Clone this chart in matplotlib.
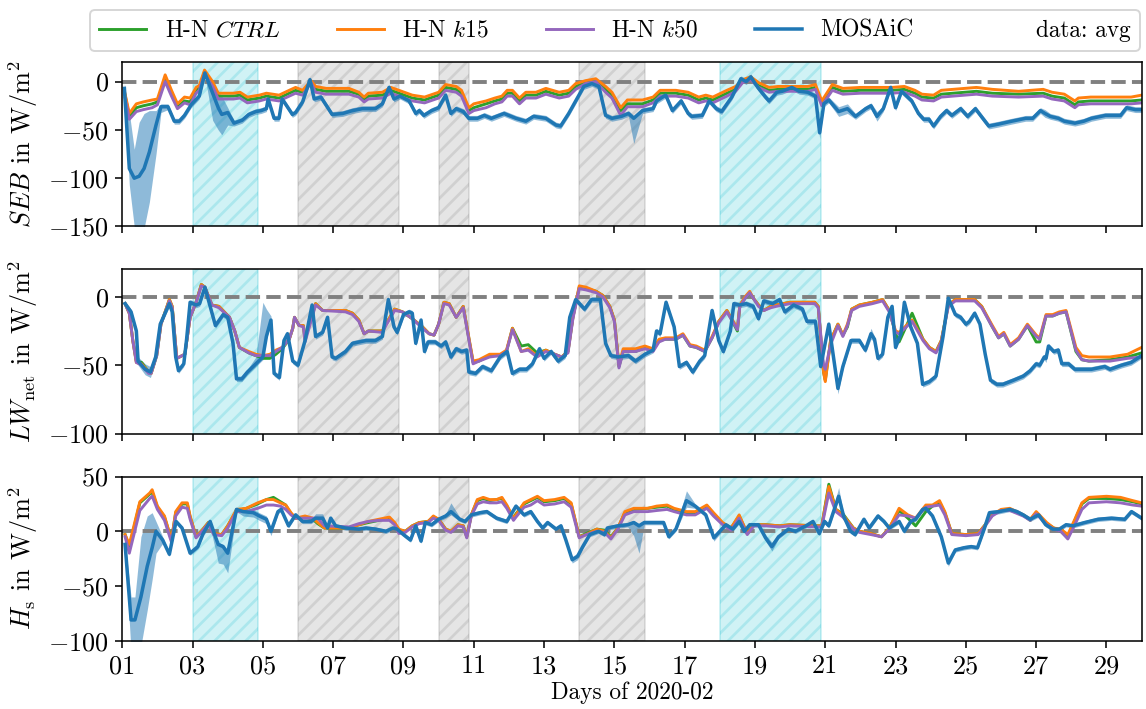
import numpy as np
import matplotlib
matplotlib.use("Agg")
import matplotlib.pyplot as plt
from matplotlib.lines import Line2D

plt.rcParams.update({
    "font.family": "serif",
    "font.serif": ["cmr10"],
    "mathtext.fontset": "cm",
    "axes.unicode_minus": False,
    "axes.formatter.use_mathtext": True,
    "font.size": 12,
    "hatch.linewidth": 1.4,
})

# shaded periods (day of Feb 2020)
cyan_spans = [(3.0, 4.875), (18.0, 20.875)]
grey_spans = [(6.0, 8.875), (10.0, 10.875), (14.0, 15.875)]

# ---------------- SEB ----------------
t_seb_mod = [1.08, 1.2, 1.4, 1.6, 1.85, 2.0, 2.22, 2.4, 2.57, 2.77,
             2.93, 3.1, 3.19, 3.34, 3.57, 3.73, 4.0, 4.16, 4.35, 4.56,
             4.9, 5.1, 5.46, 5.75, 5.93, 6.13, 6.37, 6.5, 6.8, 7.45,
             7.73, 7.88, 8.0, 8.4, 8.64, 8.87, 9.25, 9.6, 10.0, 10.2,
             10.5, 10.65, 10.86, 11.0, 11.35, 11.6, 11.8, 11.95, 12.1, 12.3,
             12.48, 12.77, 13.05, 13.43, 13.7, 13.9, 14.18, 14.47, 14.75, 14.93,
             15.18, 15.37, 15.8, 16.1, 16.3, 16.75, 17.1, 17.4, 17.6, 17.8,
             18.2, 18.45, 18.65, 18.88, 19.1, 19.4, 19.66, 20.0, 20.5, 20.72,
             20.9, 21.2, 21.5, 22.0, 22.9, 23.25, 23.55, 23.75, 24.08, 24.3,
             25.3, 25.75, 26.5, 27.2, 27.45, 27.8, 28.1, 28.2, 28.55, 29.7,
             30.0]
seb_k15 = [-13, -33, -23, -21, -19, -18, 7, -9, -23, -16,
           -17, -6, -4, 12, 0, -12, -12, -12, -11, -16,
           -14, -12, -14, -9, -6, -9, 1, -5, -7, -7,
           -11, -16, -12, -11, -6, -9, -14, -16, -11, -3,
           -5, -9, -27, -23, -20, -17, -15, -9, -9, -17,
           -11, -11, -7, -11, -9, -2, 1, 3, -5, -11,
           -27, -19, -19, -16, -9, -9, -11, -16, -14, -16,
           -9, -5, 2, 5, -1, -6, -5, -5, -5, -3,
           -20, -3, -7, -6, -6, -5, -9, -13, -14, -9,
           -6, -8, -10, -8, -11, -13, -20, -17, -16, -16,
           -14]
seb_ctrl = [-15, -36, -27, -25, -23, -21, 4, -12, -26, -20,
            -21, -9, -7, 10, -3, -15, -15, -15, -14, -19,
            -17, -15, -17, -12, -9, -11, 0, -8, -10, -10,
            -13, -19, -15, -14, -9, -12, -17, -19, -14, -6,
            -8, -12, -30, -27, -23, -20, -18, -12, -12, -20,
            -14, -14, -10, -14, -12, -5, -1, 1, -8, -14,
            -30, -23, -23, -19, -12, -12, -14, -19, -17, -19,
            -12, -8, 0, 3, -4, -9, -8, -8, -8, -6,
            -22, -6, -10, -9, -9, -8, -12, -16, -17, -13,
            -10, -12, -13, -12, -15, -17, -24, -21, -20, -20,
            -19]
seb_k50 = [-17, -39, -31, -29, -27, -24, 0, -15, -28, -22,
           -24, -12, -9, 8, -5, -18, -18, -18, -17, -22,
           -20, -18, -20, -15, -12, -14, -1, -11, -13, -13,
           -16, -21, -18, -17, -12, -15, -20, -22, -17, -9,
           -11, -15, -33, -30, -27, -23, -21, -15, -15, -23,
           -17, -17, -13, -17, -15, -8, -2, 0, -11, -17,
           -35, -26, -26, -22, -15, -15, -17, -22, -20, -22,
           -15, -10, -1, 2, -6, -11, -10, -10, -10, -8,
           -25, -9, -13, -12, -12, -11, -15, -19, -20, -16,
           -13, -15, -16, -15, -18, -20, -27, -24, -23, -23,
           -22]

t_seb_obs = [1.06, 1.2, 1.34, 1.48, 1.62, 1.77, 1.96, 2.1, 2.3, 2.48,
             2.62, 2.77, 2.96, 3.19, 3.35, 3.57, 3.73, 3.83, 4.0, 4.18,
             4.41, 4.6, 4.8, 4.95, 5.1, 5.15, 5.32, 5.46, 5.55, 5.84,
             5.93, 6.13, 6.34, 6.46, 6.65, 6.97, 7.27, 7.55, 7.83, 8.2,
             8.4, 8.59, 8.73, 8.9, 9.16, 9.35, 9.45, 9.58, 9.8, 10.0,
             10.2, 10.35, 10.5, 10.7, 10.86, 11.1, 11.3, 11.5, 11.86, 12.2,
             12.48, 12.7, 13.05, 13.34, 13.47, 13.7, 13.9, 14.13, 14.36, 14.56,
             14.75, 14.93, 15.2, 15.4, 15.55, 15.8, 16.1, 16.2, 16.46, 16.65,
             16.9, 17.1, 17.2, 17.5, 17.7, 17.9, 18.05, 18.34, 18.6, 18.75,
             18.88, 19.08, 19.3, 19.4, 19.62, 19.77, 20.05, 20.26, 20.5, 20.72,
             20.84, 20.96, 21.1, 21.38, 21.63, 21.86, 22.15, 22.3, 22.47, 22.65,
             22.86, 23.0, 23.17, 23.46, 23.65, 23.8, 23.95, 24.08, 24.28, 24.45,
             24.6, 24.85, 25.05, 25.27, 25.5, 25.65, 25.93, 26.3, 26.7, 26.9,
             27.12, 27.25, 27.4, 27.63, 27.8, 28.1, 28.35, 28.57, 28.97, 29.4,
             29.57, 29.82, 30.0]
seb_obs = [-7, -90, -100, -98, -90, -73, -45, -26, -26, -41,
           -41, -35, -24, -15, 9, -12, -27, -34, -32, -43,
           -40, -34, -31, -30, -28, -18, -38, -38, -18, -34,
           -32, -21, 2, -18, -16, -34, -33, -30, -28, -28,
           -23, -6, -18, -15, -20, -33, -30, -35, -30, -27,
           -14, -33, -28, -31, -38, -38, -35, -38, -33, -38,
           -41, -36, -38, -45, -46, -33, -20, -5, -2, -5,
           -35, -38, -36, -33, -38, -30, -28, -20, -14, -30,
           -20, -33, -36, -35, -20, -28, -31, -16, 3, 0,
           5, -6, -16, -20, -11, -10, -6, -10, -11, -15,
           -53, -23, -19, -31, -28, -36, -28, -25, -36, -28,
           -6, -27, -10, -20, -33, -39, -39, -46, -36, -30,
           -35, -28, -36, -28, -39, -46, -44, -41, -38, -38,
           -30, -33, -36, -38, -41, -43, -41, -38, -35, -35,
           -27, -29, -29]
seb_obs_dn = [3, 17, 50, 55, 62, 52, 30, 6, 3, 3,
              3, 3, 3, 3, 3, 28, 23, 21, 13, 3,
              3, 3, 3, 3, 3, 3, 3, 3, 3, 3,
              3, 3, 3, 3, 3, 3, 3, 3, 3, 3,
              3, 3, 3, 3, 3, 3, 3, 3, 3, 3,
              3, 3, 3, 3, 3, 3, 3, 3, 3, 3,
              3, 3, 3, 3, 3, 3, 3, 3, 3, 3,
              3, 3, 3, 3, 26, 3, 3, 3, 3, 3,
              3, 3, 3, 3, 3, 3, 3, 3, 3, 3,
              3, 3, 3, 3, 3, 3, 3, 3, 3, 3,
              6, 3, 3, 5, 5, 3, 3, 3, 5, 3,
              3, 3, 3, 3, 3, 3, 3, 3, 3, 3,
              3, 3, 3, 3, 3, 3, 3, 3, 3, 3,
              3, 4, 3, 3, 3, 3, 3, 3, 3, 3,
              3, 3, 3]
seb_obs_up = [5, 58, 30, 56, 57, 43, 15, 3, 3, 3,
              3, 3, 3, 3, 3, 3, 17, 19, 5, 3,
              3, 3, 3, 3, 3, 3, 3, 3, 3, 3,
              3, 3, 3, 3, 3, 3, 3, 3, 3, 3,
              3, 3, 3, 3, 3, 3, 3, 3, 3, 3,
              3, 3, 3, 3, 3, 3, 3, 3, 3, 3,
              3, 3, 3, 3, 3, 3, 3, 3, 3, 3,
              3, 3, 3, 3, 3, 3, 3, 3, 3, 3,
              3, 3, 3, 3, 3, 3, 3, 3, 3, 3,
              3, 3, 3, 3, 3, 3, 3, 3, 3, 3,
              3, 3, 3, 5, 5, 3, 3, 3, 5, 3,
              3, 3, 3, 3, 3, 3, 3, 3, 3, 3,
              3, 3, 3, 3, 3, 3, 3, 3, 3, 3,
              3, 4, 3, 3, 3, 3, 3, 3, 3, 3,
              3, 3, 3]

# ---------------- LW net ----------------
t_lw_mod = [1.08, 1.2, 1.3, 1.4, 1.55, 1.75, 1.82, 1.98, 2.1, 2.34,
            2.42, 2.55, 2.78, 2.93, 3.1, 3.25, 3.35, 3.55, 3.75, 4.05,
            4.2, 4.33, 4.6, 4.8, 5.0, 5.2, 5.37, 5.55, 5.75, 5.85,
            5.9, 6.03, 6.15, 6.2, 6.5, 6.7, 7.35, 7.55, 7.73, 7.88,
            8.0, 8.4, 8.5, 8.75, 8.97, 9.25, 9.54, 9.73, 9.87, 10.0,
            10.15, 10.3, 10.5, 10.7, 10.98, 11.15, 11.45, 11.75, 11.93, 12.1,
            12.35, 12.55, 12.8, 13.05, 13.3, 13.5, 13.68, 13.82, 14.0, 14.2,
            14.48, 14.67, 14.87, 15.0, 15.13, 15.25, 15.6, 15.87, 16.1, 16.27,
            16.45, 16.75, 16.95, 17.15, 17.33, 17.57, 17.78, 17.97, 18.2, 18.5,
            18.57, 18.75, 18.85, 18.95, 19.1, 19.25, 19.45, 19.6, 20.0, 20.7,
            20.8, 20.95, 21.0, 21.15, 21.36, 21.5, 21.63, 21.75, 21.97, 22.34,
            22.63, 22.82, 23.0, 23.1, 23.47, 23.78, 23.96, 24.15, 24.3, 24.5,
            24.7, 25.25, 25.45, 25.73, 25.93, 26.08, 26.26, 26.5, 26.75, 27.0,
            27.1, 27.28, 27.47, 27.66, 27.85, 28.13, 28.3, 28.5, 29.1, 29.6,
            30.0]
lw_k15 = [-5, -12, -32, -48, -49, -55, -56, -42, -20, -2,
          -7, -45, -42, -15, -4, 9, 7, -6, -7, -15,
          -25, -37, -40, -42, -43, -42, -39, -37, -31, -23,
          -15, -21, -21, -30, -5, -10, -10, -12, -17, -27,
          -25, -25, -20, -9, -11, -16, -22, -27, -28, -20,
          -4, -5, -15, -7, -47, -46, -42, -42, -39, -23,
          -40, -38, -43, -39, -42, -44, -40, -15, 8, 7,
          4, 1, -7, -17, -50, -38, -38, -36, -38, -31,
          -30, -30, -27, -35, -36, -39, -29, -18, -10, -23,
          -6, 1, 4, -1, -6, -10, -7, -6, -4, -4,
          -7, -55, -62, -32, -20, -28, -20, -9, -6, -4,
          -2, -10, -25, -26, -17, -31, -37, -40, -32, -6,
          -2, -2, -7, -20, -29, -26, -35, -30, -20, -28,
          -30, -13, -13, -11, -10, -37, -43, -44, -44, -42,
          -37]
lw_ctrl = [-5, -12, -32, -47, -48, -55, -56, -43, -20, -2,
           -7, -45, -42, -15, -4, 9, 7, -6, -7, -15,
           -25, -37, -41, -43, -45, -45, -42, -38, -31, -23,
           -15, -21, -21, -31, -5, -10, -10, -12, -17, -27,
           -25, -25, -20, -9, -11, -16, -22, -27, -28, -20,
           -4, -5, -15, -7, -48, -47, -43, -43, -40, -23,
           -36, -35, -41, -39, -42, -44, -40, -15, 7, 6,
           4, 1, -7, -17, -51, -40, -40, -37, -39, -32,
           -31, -31, -28, -36, -37, -40, -30, -18, -10, -25,
           -6, 0, 3, -1, -6, -10, -7, -6, -4, -4,
           -7, -55, -61, -32, -20, -28, -22, -9, -6, -4,
           -2, -10, -27, -33, -12, -31, -37, -40, -32, -6,
           -2, -2, -7, -21, -30, -27, -36, -31, -21, -33,
           -33, -14, -14, -12, -11, -40, -46, -47, -46, -44,
           -41]
lw_k50 = [-5, -12, -32, -48, -50, -56, -56, -43, -20, -3,
          -8, -45, -42, -15, -4, 8, 7, -6, -8, -15,
          -25, -37, -41, -43, -43, -43, -40, -37, -31, -23,
          -15, -21, -22, -33, -6, -10, -11, -13, -18, -27,
          -25, -26, -21, -10, -11, -16, -23, -27, -28, -20,
          -5, -6, -15, -8, -49, -47, -44, -43, -40, -24,
          -40, -39, -44, -40, -42, -44, -41, -16, 6, 5,
          3, 0, -8, -18, -52, -40, -40, -38, -40, -33,
          -31, -31, -28, -36, -37, -40, -30, -19, -11, -24,
          -7, 0, 3, -1, -7, -10, -8, -7, -5, -5,
          -8, -50, -53, -35, -21, -29, -21, -10, -7, -5,
          -3, -11, -26, -27, -18, -32, -38, -41, -33, -7,
          -3, -3, -8, -21, -30, -27, -36, -31, -21, -29,
          -31, -14, -14, -12, -11, -39, -46, -47, -47, -45,
          -44]

t_lw_obs = [1.08, 1.25, 1.4, 1.45, 1.65, 1.8, 1.95, 2.08, 2.34, 2.42,
            2.52, 2.6, 2.75, 2.83, 2.93, 3.1, 3.2, 3.35, 3.5, 3.65,
            3.87, 4.0, 4.15, 4.25, 4.4, 4.56, 4.8, 5.0, 5.1, 5.23,
            5.32, 5.47, 5.6, 5.7, 5.85, 6.0, 6.2, 6.4, 6.5, 6.7,
            6.84, 6.97, 7.07, 7.35, 7.55, 7.93, 8.2, 8.4, 8.57, 8.73,
            8.82, 9.0, 9.16, 9.25, 9.35, 9.5, 9.6, 9.7, 9.9, 10.07,
            10.2, 10.35, 10.5, 10.65, 10.8, 10.86, 11.05, 11.25, 11.5, 11.75,
            11.95, 12.1, 12.3, 12.5, 12.67, 12.87, 13.0, 13.2, 13.4, 13.6,
            13.73, 13.9, 14.15, 14.35, 14.6, 14.75, 14.9, 15.1, 15.4, 15.6,
            15.87, 16.1, 16.2, 16.3, 16.47, 16.7, 16.85, 17.05, 17.23, 17.43,
            17.57, 17.78, 17.97, 18.1, 18.3, 18.4, 18.55, 18.75, 18.95, 19.1,
            19.25, 19.5, 19.7, 19.85, 20.1, 20.35, 20.48, 20.72, 20.87, 21.1,
            21.36, 21.5, 21.73, 21.97, 22.14, 22.3, 22.4, 22.5, 22.63, 22.78,
            22.9, 23.0, 23.15, 23.25, 23.43, 23.62, 23.77, 23.96, 24.15, 24.35,
            24.5, 24.7, 24.85, 25.0, 25.1, 25.25, 25.4, 25.55, 25.7, 25.88,
            26.05, 26.35, 26.63, 26.83, 27.0, 27.1, 27.23, 27.28, 27.35, 27.5,
            27.63, 27.73, 27.92, 28.1, 28.57, 28.95, 29.1, 29.43, 29.7, 30.0]
lw_obs = [-5, -11, -25, -47, -53, -55, -44, -20, -5, -11,
          -44, -54, -49, -31, -4, -6, -5, 7, -7, -21,
          -13, -15, -34, -60, -60, -55, -49, -44, -29, -17,
          -56, -59, -32, -27, -47, -50, -32, -6, -29, -26,
          -15, -44, -45, -40, -34, -32, -32, -29, -2, -22,
          -26, -13, -11, -12, -34, -17, -40, -33, -33, -36,
          -33, -44, -38, -40, -39, -55, -56, -51, -54, -44,
          -40, -56, -53, -53, -49, -38, -45, -40, -47, -43,
          -15, -2, -9, -2, -2, -34, -43, -44, -43, -47,
          -42, -39, -25, -27, -4, -22, -51, -48, -55, -47,
          -43, -10, -32, -40, -25, -5, -6, -5, -7, -16,
          -3, -5, -2, -11, -6, -9, -18, -18, -51, -20,
          -67, -51, -32, -32, -39, -27, -31, -45, -42, -15,
          -7, -37, -27, -4, -22, -34, -64, -62, -58, -29,
          -1, -13, -15, -20, -18, -12, -20, -42, -61, -64,
          -64, -61, -58, -54, -49, -50, -44, -45, -36, -40,
          -39, -49, -49, -53, -53, -51, -53, -50, -48, -43]
lw_obs_dn = [2, 2, 2, 3, 4, 4, 3, 2, 2, 2,
             2, 2, 2, 2, 2, 2, 2, 2, 2, 2,
             2, 2, 2, 2, 2, 2, 2, 2, 2, 2,
             2, 2, 2, 2, 2, 2, 2, 2, 2, 2,
             2, 2, 2, 2, 2, 2, 2, 2, 2, 2,
             2, 2, 2, 2, 2, 2, 2, 2, 2, 2,
             2, 2, 2, 2, 2, 2, 2, 2, 2, 2,
             2, 2, 2, 2, 2, 2, 2, 2, 2, 2,
             2, 2, 2, 2, 2, 2, 2, 2, 2, 2,
             2, 2, 2, 2, 2, 2, 2, 2, 2, 2,
             2, 2, 2, 2, 2, 2, 2, 2, 2, 2,
             2, 2, 2, 2, 2, 2, 2, 2, 2, 2,
             4, 2, 2, 2, 2, 4, 2, 2, 2, 2,
             2, 2, 2, 2, 2, 2, 2, 2, 2, 2,
             2, 2, 2, 2, 2, 2, 2, 2, 2, 2,
             2, 2, 2, 2, 2, 2, 2, 3, 2, 2,
             2, 2, 2, 2, 2, 2, 2, 2, 2, 2]
lw_obs_up = [2, 2, 2, 3, 4, 4, 3, 2, 2, 2,
             2, 2, 2, 2, 2, 2, 2, 2, 2, 2,
             2, 2, 2, 2, 2, 2, 5, 40, 20, 3,
             2, 2, 2, 2, 2, 2, 2, 2, 2, 2,
             2, 2, 2, 2, 2, 2, 2, 2, 2, 2,
             2, 2, 2, 2, 2, 2, 2, 2, 2, 2,
             2, 2, 2, 2, 2, 2, 2, 2, 2, 2,
             2, 2, 2, 2, 2, 2, 2, 2, 2, 2,
             2, 2, 2, 2, 2, 2, 2, 2, 2, 2,
             2, 2, 2, 2, 2, 2, 2, 2, 2, 2,
             2, 2, 2, 2, 2, 2, 2, 2, 2, 2,
             2, 2, 2, 2, 2, 2, 2, 2, 2, 2,
             4, 2, 2, 2, 2, 4, 2, 2, 2, 2,
             2, 2, 2, 2, 2, 2, 2, 2, 2, 2,
             2, 2, 2, 2, 2, 2, 2, 2, 2, 2,
             2, 2, 2, 2, 2, 2, 2, 3, 2, 2,
             2, 2, 2, 2, 2, 2, 2, 2, 2, 2]

# ---------------- Hs ----------------
t_hs_mod = [1.08, 1.2, 1.5, 1.78, 1.85, 2.0, 2.2, 2.4, 2.52, 2.7,
            2.85, 2.93, 3.1, 3.3, 3.45, 3.6, 3.83, 4.0, 4.25, 4.53,
            4.85, 5.1, 5.3, 5.5, 5.65, 5.8, 5.93, 6.2, 6.42, 6.56,
            6.75, 7.45, 7.73, 8.0, 8.3, 8.6, 8.75, 8.87, 9.05, 9.25,
            9.45, 9.7, 9.85, 10.0, 10.2, 10.35, 10.55, 10.7, 10.8, 10.93,
            11.1, 11.27, 11.45, 11.65, 11.8, 11.94, 12.13, 12.2, 12.43, 12.62,
            12.81, 13.0, 13.3, 13.57, 13.77, 14.0, 14.2, 14.5, 14.72, 14.9,
            15.1, 15.3, 15.55, 15.95, 16.2, 16.5, 16.7, 17.05, 17.3, 17.63,
            17.82, 18.08, 18.32, 18.55, 18.78, 18.97, 19.3, 19.7, 20.0, 20.72,
            20.9, 21.1, 21.3, 21.5, 21.8, 21.97, 22.3, 22.6, 22.82, 23.1,
            23.35, 23.57, 23.86, 24.05, 24.25, 24.4, 24.6, 25.0, 25.35, 25.55,
            25.75, 26.0, 26.25, 26.63, 26.83, 27.0, 27.3, 27.5, 27.7, 27.9,
            28.1, 28.3, 28.5, 29.0, 29.4, 29.75, 30.0]
hs_k15 = [-3, -12, 27, 35, 38, 23, 14, -8, 18, 26,
          26, 14, -5, 2, 8, -2, -3, 5, 20, 21,
          26, 29, 29, 26, 24, 17, 12, 14, 12, 8,
          3, 3, 6, 9, 11, 13, 8, 2, 0, 5,
          8, 9, 14, 11, 2, 0, 6, 5, -5, 15,
          29, 31, 29, 29, 31, 24, 12, 15, 26, 29,
          32, 28, 29, 31, 26, -5, -3, 2, 0, -6,
          3, 18, 21, 21, 23, 24, 21, 18, 18, 24,
          17, 8, 3, 15, -2, 6, 6, 5, 6, 5,
          5, 41, 20, 15, 3, 0, -2, -5, 3, 21,
          15, 12, 24, 24, 28, 18, -2, -3, -2, 6,
          15, 20, 21, 15, 11, 18, 8, 3, 2, -3,
          11, 26, 31, 32, 31, 28, 26]
hs_ctrl = [-3, -15, 26, 34, 36, 22, 13, -8, 17, 25,
           25, 13, -5, 2, 8, -2, -3, 5, 19, 21,
           25, 29, 31, 27, 24, 16, 12, 13, 11, 7,
           3, 3, 6, 8, 10, 12, 7, 1, 0, 5,
           8, 9, 13, 11, 2, 0, 6, 5, -5, 15,
           28, 30, 28, 29, 30, 23, 12, 16, 25, 28,
           31, 27, 28, 30, 25, -5, -2, 2, 1, -5,
           3, 17, 20, 21, 22, 23, 20, 17, 17, 23,
           16, 7, 3, 14, -2, 6, 6, 5, 6, 5,
           5, 43, 20, 16, 3, 0, -2, -5, 3, 19,
           12, 5, 18, 23, 26, 17, -2, -3, -2, 6,
           15, 19, 20, 15, 10, 17, 7, 3, 0, -6,
           10, 25, 30, 30, 29, 27, 25]
hs_k50 = [-5, -20, 19, 30, 32, 20, 10, -10, 14, 22,
          21, 11, -6, 1, 7, -3, -4, 3, 18, 18,
          21, 24, 24, 23, 20, 15, 12, 12, 12, 12,
          5, 4, 7, 9, 10, 10, 6, -2, -1, 4,
          7, 8, 12, 10, 1, -1, 5, 4, -6, 14,
          25, 27, 26, 26, 27, 21, 10, 13, 22, 24,
          28, 24, 25, 27, 22, -6, -3, 0, -1, -7,
          2, 15, 18, 18, 19, 20, 18, 15, 15, 21,
          14, 6, 1, 12, -3, 5, 5, 4, 5, 4,
          4, 35, 18, 13, 2, -1, -3, -5, 2, 15,
          14, 12, 22, 23, 24, 15, -3, -4, -3, 5,
          14, 19, 19, 14, 10, 16, 6, 2, 0, -7,
          6, 20, 26, 27, 26, 24, 23]

t_hs_obs = [1.08, 1.25, 1.36, 1.53, 1.71, 1.85, 1.96, 2.15, 2.34, 2.53,
            2.7, 2.93, 3.15, 3.3, 3.5, 3.65, 3.73, 3.87, 4.0, 4.25,
            4.44, 4.73, 4.9, 5.1, 5.23, 5.43, 5.52, 5.73, 5.93, 6.13,
            6.37, 6.5, 6.7, 6.84, 6.93, 7.07, 7.35, 7.73, 7.93, 8.2,
            8.5, 8.7, 8.82, 9.0, 9.2, 9.35, 9.5, 9.62, 9.8, 10.0,
            10.2, 10.35, 10.6, 10.75, 10.93, 11.18, 11.37, 11.65, 11.94, 12.2,
            12.43, 12.62, 12.81, 12.96, 13.1, 13.34, 13.48, 13.62, 13.8, 13.95,
            14.1, 14.3, 14.55, 14.72, 14.8, 15.1, 15.38, 15.55, 15.7, 15.85,
            16.4, 16.55, 16.75, 17.05, 17.3, 17.6, 17.83, 18.17, 18.37, 18.55,
            18.7, 18.85, 19.1, 19.3, 19.48, 19.67, 19.95, 20.15, 20.45, 20.65,
            20.83, 20.98, 21.1, 21.38, 21.52, 21.72, 21.85, 22.1, 22.25, 22.5,
            22.67, 22.82, 23.1, 23.25, 23.43, 23.57, 23.77, 23.86, 24.05, 24.3,
            24.5, 24.7, 24.95, 25.15, 25.33, 25.52, 25.67, 25.95, 26.25, 26.45,
            26.63, 26.83, 27.07, 27.27, 27.47, 27.66, 27.85, 28.04, 28.38, 28.76,
            29.14, 29.52, 29.71, 30.0]
hs_obs = [-12, -81, -81, -60, -32, -15, 0, -8, -21, 9,
          3, -20, -14, -2, 9, -5, -12, -14, -20, 20,
          18, 17, 14, 11, 0, 18, 20, 5, 15, 9,
          9, 12, 12, 3, 12, 5, 3, 2, 3, 2,
          0, 3, 2, -3, -8, 5, -9, 8, 6, 11,
          14, 18, 11, 9, 15, 17, 18, 12, 9, 23,
          15, 18, 9, 3, 8, 2, 5, -8, -26, -23,
          -14, -3, 0, -3, 3, 5, 6, 8, 5, 8,
          8, -5, 2, 28, 23, 15, -6, 6, 2, 9,
          0, 6, 6, -6, -14, -5, 2, 0, 5, 9,
          -2, 9, 5, 32, 14, 0, -3, 11, 3, 14,
          9, 3, 9, 0, 9, 11, 20, 21, 14, -5,
          -29, -17, -15, -14, -15, 2, 17, 18, 20, 18,
          15, 11, 15, 6, 2, 2, 6, 5, 8, 11,
          12, 11, 18, 12]
hs_obs_dn = [3, 30, 30, 45, 40, 29, 20, 3, 2, 2,
             2, 2, 2, 2, 5, 12, 17, 16, 18, 2,
             4, 4, 4, 4, 4, 2, 2, 2, 2, 2,
             2, 2, 2, 2, 2, 2, 2, 2, 2, 2,
             2, 2, 2, 2, 2, 2, 2, 2, 2, 2,
             2, 3, 2, 2, 2, 2, 2, 2, 2, 2,
             2, 2, 2, 2, 2, 2, 2, 2, 3, 3,
             2, 2, 2, 2, 2, 2, 2, 12, 25, 2,
             2, 2, 2, 6, 2, 2, 3, 2, 2, 2,
             2, 2, 2, 3, 4, 2, 2, 2, 2, 2,
             2, 2, 2, 3, 2, 2, 2, 2, 2, 2,
             2, 2, 2, 2, 2, 2, 2, 2, 2, 2,
             3, 2, 2, 2, 2, 2, 2, 2, 2, 2,
             2, 2, 2, 2, 2, 2, 2, 2, 2, 2,
             2, 2, 2, 2]
hs_obs_up = [3, 21, 21, 55, 46, 32, 9, 3, 2, 2,
             2, 2, 2, 2, 2, 2, 2, 2, 2, 2,
             3, 3, 3, 3, 3, 2, 2, 2, 2, 2,
             2, 4, 4, 2, 2, 2, 2, 2, 2, 2,
             2, 2, 2, 2, 2, 2, 2, 2, 2, 2,
             2, 8, 2, 2, 2, 2, 2, 2, 2, 2,
             2, 2, 2, 2, 2, 2, 2, 2, 3, 3,
             2, 2, 2, 2, 2, 2, 2, 2, 2, 2,
             2, 2, 2, 9, 2, 2, 3, 2, 2, 2,
             2, 2, 2, 3, 4, 2, 2, 2, 2, 2,
             2, 2, 2, 8, 2, 2, 2, 2, 2, 2,
             2, 2, 2, 2, 2, 2, 2, 2, 2, 2,
             3, 2, 2, 2, 2, 2, 2, 2, 2, 2,
             2, 2, 2, 2, 2, 2, 2, 2, 2, 2,
             2, 2, 2, 2]

day_ticks = list(range(1, 30, 2))
day_labels = [f"{d:02d}" for d in day_ticks]

legend_labels = ["H-N $CTRL$", "H-N $k15$", "H-N $k50$", "MOSAiC", "data: avg"]


def draw_panel(ax, t_obs, obs, obs_dn, obs_up, t_mod, ctrl, k15, k50, ylim, yticks, ylabel):
    for a, b in cyan_spans:
        ax.axvspan(a, b, color="tab:cyan", alpha=0.2, hatch="///", zorder=0)
    for a, b in grey_spans:
        ax.axvspan(a, b, color="grey", alpha=0.2, hatch="///", zorder=0)
    ax.axhline(0, color="grey", ls="--", lw=2, zorder=1.5)
    ax.plot(t_mod, ctrl, color="tab:green", lw=1.5)
    ax.plot(t_mod, k15, color="tab:orange", lw=1.5)
    ax.plot(t_mod, k50, color="tab:purple", lw=1.5)
    obs = np.asarray(obs, dtype=float)
    ax.fill_between(t_obs, obs - np.asarray(obs_dn), obs + np.asarray(obs_up),
                    color="tab:blue", alpha=0.5, lw=0)
    ax.plot(t_obs, obs, color="tab:blue", lw=1.8)
    ax.set_ylim(*ylim)
    ax.set_yticks(yticks)
    ax.tick_params(axis="y", labelsize=13.5)
    ax.set_ylabel(ylabel, fontsize=13.5)


def main():
    fig, axes = plt.subplots(3, 1, figsize=(1146 / 140, 709 / 140), dpi=140, sharex=True)
    fig.subplots_adjust(left=0.1067, right=0.9962, top=0.9121, bottom=0.0963, hspace=0.262)

    draw_panel(axes[0], t_seb_obs, seb_obs, seb_obs_dn, seb_obs_up,
               t_seb_mod, seb_ctrl, seb_k15, seb_k50,
               (-150, 20), [-150, -100, -50, 0], r"$SEB$ in $\mathrm{W/m^2}$")
    draw_panel(axes[1], t_lw_obs, lw_obs, lw_obs_dn, lw_obs_up,
               t_lw_mod, lw_ctrl, lw_k15, lw_k50,
               (-100, 20), [-100, -50, 0], r"$LW_\mathrm{net}$ in $\mathrm{W/m^2}$")
    draw_panel(axes[2], t_hs_obs, hs_obs, hs_obs_dn, hs_obs_up,
               t_hs_mod, hs_ctrl, hs_k15, hs_k50,
               (-100, 50), [-100, -50, 0, 50], r"$H_\mathrm{s}$ in $\mathrm{W/m^2}$")

    axes[2].set_xlim(1, 30)
    axes[2].set_xticks(day_ticks, day_labels)
    axes[2].tick_params(axis="x", labelsize=13.5)
    axes[2].set_xlabel("Days of 2020-02", labelpad=2)
    fig.align_ylabels(axes)

    handles = [Line2D([], [], color="tab:green", lw=1.5),
               Line2D([], [], color="tab:orange", lw=1.5),
               Line2D([], [], color="tab:purple", lw=1.5),
               Line2D([], [], color="tab:blue", lw=1.8),
               Line2D([], [], color="none")]
    fig.legend(handles, legend_labels, loc="lower left",
               bbox_to_anchor=(0.0785, 0.928, 0.916, 0.06), mode="expand",
               ncol=5, borderaxespad=0)

    fig.savefig("out.png", dpi=140)


if __name__ == "__main__":
    main()
